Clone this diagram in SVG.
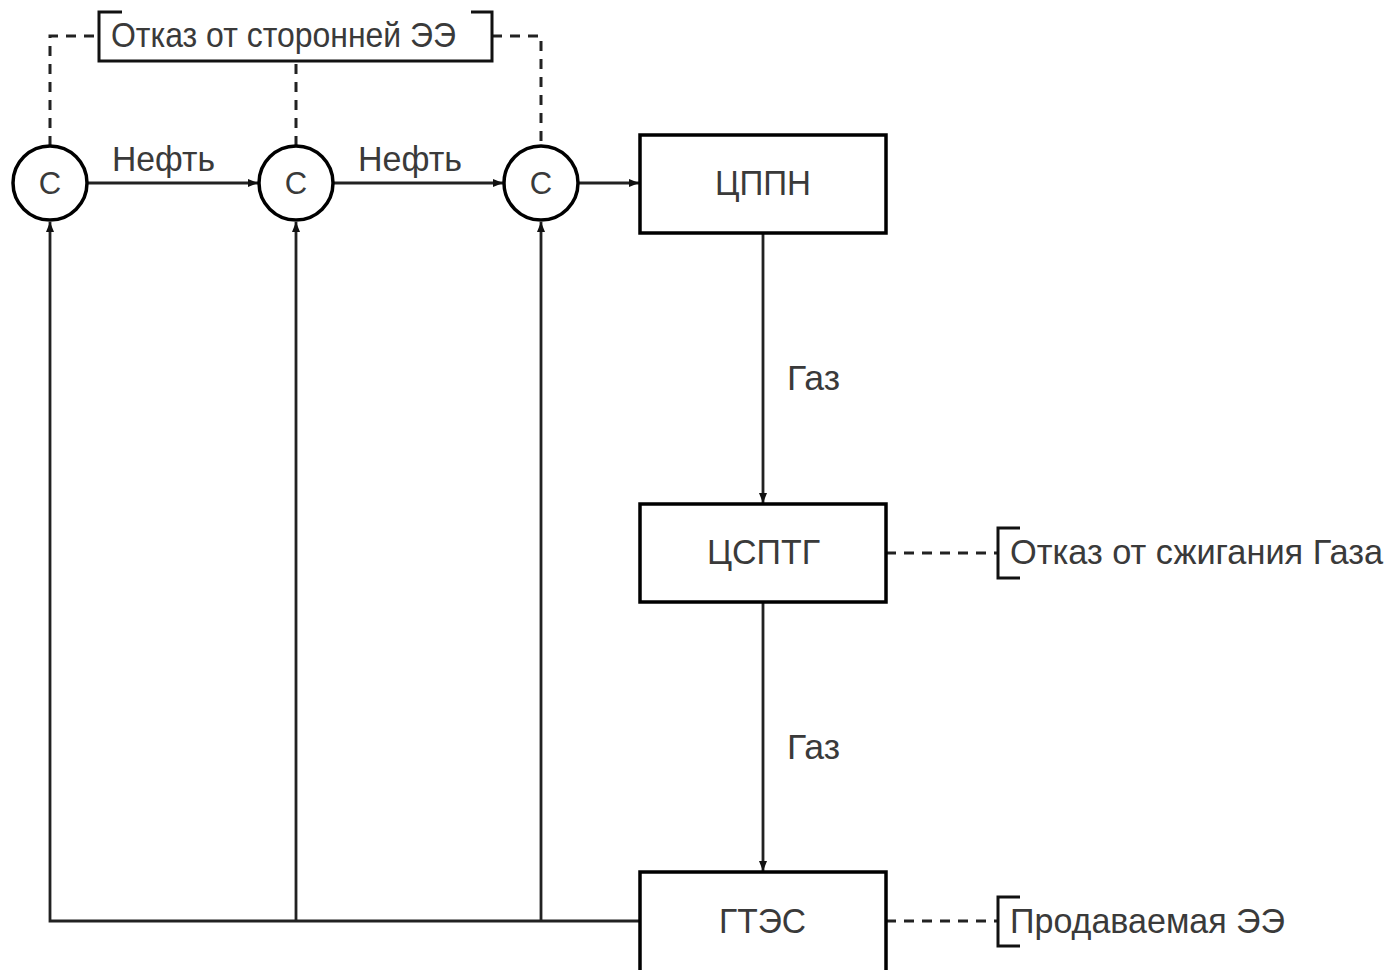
<svg xmlns="http://www.w3.org/2000/svg" width="1400" height="970" viewBox="0 0 1400 970">
<defs>
<style>
.box{fill:#fff;stroke:#000;stroke-width:3.5}
.circ{fill:#fff;stroke:#000;stroke-width:3.5}
.ln{fill:none;stroke:#222;stroke-width:2.8}
.dash{fill:none;stroke:#222;stroke-width:3;stroke-dasharray:10 8}
.br{fill:none;stroke:#111;stroke-width:3}
.t{font-family:"Liberation Sans",Arial,sans-serif;font-size:35px;fill:#3a3a3a}
.c{font-family:"Liberation Sans",Arial,sans-serif;font-size:31px;fill:#3a3a3a;text-anchor:middle}
.m{text-anchor:middle}
</style>
<marker id="arr" markerUnits="userSpaceOnUse" markerWidth="10" markerHeight="10" viewBox="0 0 10 10" refX="10" refY="5" orient="auto">
<path d="M0,1 L10,5 L0,9 Z" fill="#111"/>
</marker>
</defs>
<rect width="1400" height="970" fill="#fff"/>

<g id="connectors">
<line class="ln" x1="87" y1="183" x2="258" y2="183" marker-end="url(#arr)"/>
<line class="ln" x1="333" y1="183" x2="503" y2="183" marker-end="url(#arr)"/>
<line class="ln" x1="578" y1="183" x2="639" y2="183" marker-end="url(#arr)"/>
<line class="ln" x1="763" y1="234" x2="763" y2="503" marker-end="url(#arr)"/>
<line class="ln" x1="763" y1="603" x2="763" y2="871" marker-end="url(#arr)"/>
<polyline class="ln" points="640,921 50,921 50,222" marker-end="url(#arr)"/>
<line class="ln" x1="296" y1="921" x2="296" y2="222" marker-end="url(#arr)"/>
<line class="ln" x1="541" y1="921" x2="541" y2="222" marker-end="url(#arr)"/>
<polyline class="dash" points="50,146 50,36 99,36"/>
<line class="dash" x1="296" y1="146" x2="296" y2="61"/>
<polyline class="dash" points="492,36 541,36 541,146"/>
<line class="dash" x1="886" y1="553" x2="997" y2="553"/>
<line class="dash" x1="886" y1="921" x2="997" y2="921"/>
<text class="t" x="112" y="171" textLength="103" lengthAdjust="spacingAndGlyphs">Нефть</text>
<text class="t" x="358" y="171" textLength="104" lengthAdjust="spacingAndGlyphs">Нефть</text>
<text class="t" x="787" y="390" textLength="53" lengthAdjust="spacingAndGlyphs">Газ</text>
<text class="t" x="787" y="759" textLength="53" lengthAdjust="spacingAndGlyphs">Газ</text>
</g>

<g id="node-c1">
<circle class="circ" cx="50" cy="183" r="37"/>
<text class="c" x="50" y="194">С</text>
</g>
<g id="node-c2">
<circle class="circ" cx="296" cy="183" r="37"/>
<text class="c" x="296" y="194">С</text>
</g>
<g id="node-c3">
<circle class="circ" cx="541" cy="183" r="37"/>
<text class="c" x="541" y="194">С</text>
</g>

<g id="node-cppn">
<rect class="box" x="640" y="135" width="246" height="98"/>
<text class="t" x="715" y="195" textLength="96" lengthAdjust="spacingAndGlyphs">ЦППН</text>
</g>
<g id="node-csptg">
<rect class="box" x="640" y="504" width="246" height="98"/>
<text class="t" x="707" y="564" textLength="113" lengthAdjust="spacingAndGlyphs">ЦСПТГ</text>
</g>
<g id="node-gtes">
<rect class="box" x="640" y="872" width="246" height="110"/>
<text class="t" x="719" y="933" textLength="87" lengthAdjust="spacingAndGlyphs">ГТЭС</text>
</g>

<g id="note-top">
<path class="br" d="M122,12 H99 V61 H492 V12 H471"/>
<text class="t" x="111" y="47" textLength="345" lengthAdjust="spacingAndGlyphs">Отказ от сторонней ЭЭ</text>
</g>
<g id="note-gas">
<path class="br" d="M1020,528 H998 V578 H1020"/>
<text class="t" x="1010" y="564" textLength="373" lengthAdjust="spacingAndGlyphs">Отказ от сжигания Газа</text>
</g>
<g id="note-sold">
<path class="br" d="M1020,897 H998 V946 H1020"/>
<text class="t" x="1010" y="933" textLength="275" lengthAdjust="spacingAndGlyphs">Продаваемая ЭЭ</text>
</g>
</svg>
